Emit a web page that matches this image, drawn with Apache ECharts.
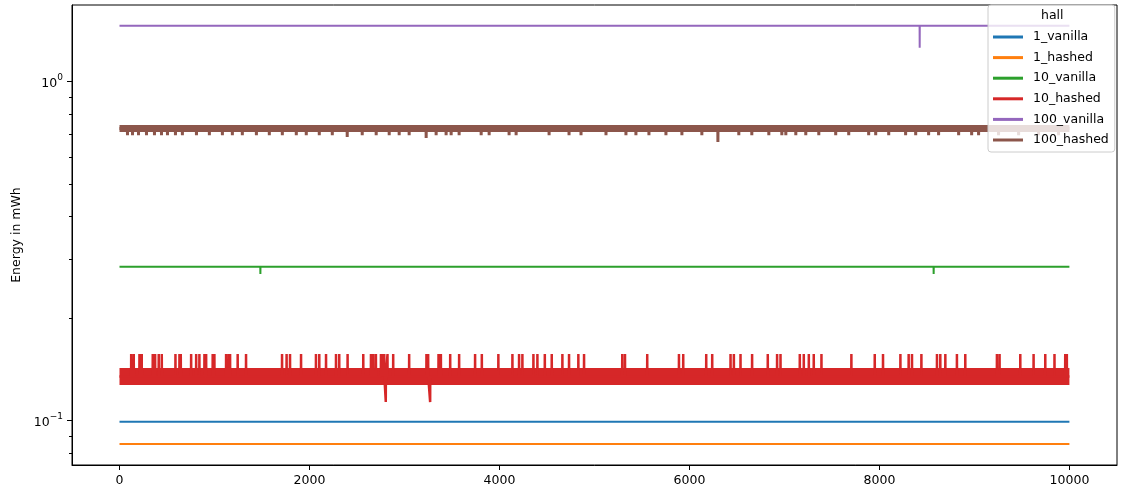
<!DOCTYPE html>
<html>
<head>
<meta charset="utf-8">
<script src="https://cdn.jsdelivr.net/npm/echarts@6/dist/echarts.min.js"></script>
<style>
  html, body { margin: 0; padding: 0; background: #fff; }
  #chartmain { width: 1121px; height: 495px; }
</style>
</head>
<body>
<div id="chartmain"></div>
<script>
// legend names and colours (matplotlib tab10)
var names = ['1_vanilla', '1_hashed', '10_vanilla', '10_hashed', '100_vanilla', '100_hashed'];
var colors = ['#1f77b4', '#ff7f0e', '#2ca02c', '#d62728', '#9467bd', '#8c564b'];
// typical level of each run (mWh)
var levels = [0.0993, 0.0854, 0.2847, 0.1350, 1.463, 0.7277];
var lastX = 9999;

// single dips [x, value]
var dips10Vanilla = [[1483, 0.2708], [8570, 0.2708]];
var dips100Vanilla = [[8423, 1.26]];
var dips10Hashed = [[2803, 0.1135], [3270, 0.1135]];

// 10_hashed : upward spikes
var spikeTop10Hashed = 0.1573;
var spikeX10Hashed = [123, 150, 210, 234, 350, 375, 413, 445, 589, 631, 645, 754, 807, 841, 894, 912, 981, 999,
  1122, 1149, 1164, 1244, 1332, 1711, 1759, 1795, 1911, 2068, 2103, 2174, 2279, 2313, 2401,
  2566, 2647, 2671, 2699, 2752, 2769, 2787, 2821, 2881, 3049, 3231, 3249, 3358, 3383, 3481, 3575,
  3743, 3814, 3988, 4136, 4206, 4241, 4357, 4399, 4477, 4550, 4662, 4732, 4830, 4890, 5292, 5321,
  5555, 5889, 5934, 6176, 6239, 6432, 6467, 6537, 6659, 6824, 6922, 6958, 7161, 7203, 7256, 7308,
  7389, 7704, 7950, 8037, 8220, 8307, 8342, 8441, 8605, 8640, 8693, 8815, 8903, 9236, 9264, 9482,
  9622, 9745, 9842, 9955, 9972];

// 100_hashed : small downward dips
var dipLow100Hashed = 0.695;
var dipX100Hashed = [84, 137, 200, 284, 368, 442, 505, 589, 662, 810, 946, 1083, 1188, 1293, 1441, 1577,
  1714, 1861, 1966, 2103, 2240, 2555, 2702, 2839, 2944, 3049, 3333, 3438, 3491, 3575, 3807, 3891,
  4101, 4175, 4522, 4732, 4858, 5121, 5331, 5436, 5573, 5752, 5920, 6130, 6519, 6656, 6835, 6972,
  7014, 7119, 7224, 7361, 7539, 7676, 7886, 7960, 8097, 8275, 8381, 8517, 8622, 8833, 8970, 9043,
  9253, 9464, 9674, 9884];
var deepDips100Hashed = [[2397, 0.687], [3228, 0.682], [6299, 0.664]];

// axis ticks
var xTicks = [0, 2000, 4000, 6000, 8000, 10000];
var yMajor = [0.1, 1];
var yMinor = [0.08, 0.09, 0.2, 0.3, 0.4, 0.5, 0.6, 0.7, 0.8, 0.9];

function stepped(base, events) {
	var ev = events.slice().sort(function(a, b) { return a[0] - b[0]; });
	var out = [[0, base]];
	for (var i = 0; i < ev.length; i++) {
		out.push([ev[i][0] - 1, base]);
		out.push([ev[i][0], ev[i][1]]);
		out.push([ev[i][0] + 1, base]);
	}
	out.push([lastX, base]);
	return out;
}

function lineSeries(idx, data, width) {
	return {
		name : names[idx],
		type : 'line',
		data : data,
		showSymbol : false,
		symbol : 'none',
		silent : true,
		animation : false,
		lineStyle : { color : colors[idx], width : width },
		itemStyle : { color : colors[idx] }
	};
}

var spikes = [];
for (var i = 0; i < spikeX10Hashed.length; i++) spikes.push([spikeX10Hashed[i], spikeTop10Hashed]);
var dips = [];
for (var i = 0; i < dipX100Hashed.length; i++) dips.push([dipX100Hashed[i], dipLow100Hashed]);

var series = [
	lineSeries(0, stepped(levels[0], []), 2),
	lineSeries(1, stepped(levels[1], []), 2),
	lineSeries(2, stepped(levels[2], dips10Vanilla), 2),
	lineSeries(3, stepped(levels[3], []), 17),
	lineSeries(3, stepped(levels[3], spikes.concat(dips10Hashed)), 2.5),
	lineSeries(4, stepped(levels[4], dips100Vanilla), 2),
	lineSeries(5, stepped(levels[5], []), 7),
	lineSeries(5, stepped(levels[5], dips.concat(deepDips100Hashed)), 3)
];

var font = 'DejaVu Sans';
var option = {
	animation : false,
	title : {
		text : 'hall',
		left : 1041,
		top : 9,
		padding : 0,
		textStyle : { fontFamily : font, fontSize : 12.5, fontWeight : 'normal', color : '#000' }
	},
	legend : {
		data : names,
		orient : 'vertical',
		left : 988,
		top : 5,
		padding : [25, 6, 5, 5],
		itemWidth : 30,
		itemHeight : 3,
		itemGap : 6.6,
		icon : 'rect',
		backgroundColor : 'rgba(255,255,255,0.8)',
		borderColor : '#cccccc',
		borderWidth : 1,
		borderRadius : 3,
		selectedMode : false,
		textStyle : { fontFamily : font, fontSize : 12.5, color : '#000', lineHeight : 14, padding : [0, 0, 0, 5] }
	},
	grid : {
		left : 72,
		top : 5,
		width : 1045,
		height : 460,
		show : true,
		borderColor : '#000',
		borderWidth : 1
	},
	xAxis : {
		type : 'value',
		min : -500,
		max : 10500,
		splitLine : { show : false },
		axisLine : { show : true, onZero : false, lineStyle : { color : '#000' } },
		axisTick : { show : true, length : 5, customValues : xTicks, lineStyle : { color : '#000' } },
		axisLabel : {
			customValues : xTicks,
			margin : 9,
			color : '#000',
			fontFamily : font,
			fontSize : 12.5,
			formatter : function(v) { return String(v); }
		}
	},
	yAxis : [{
		type : 'log',
		logBase : 10,
		min : 0.0740,
		max : 1.684,
		name : 'Energy in mWh',
		nameLocation : 'middle',
		nameGap : 47,
		nameTextStyle : { fontFamily : font, fontSize : 12.5, color : '#000' },
		splitLine : { show : false },
		axisLine : { show : true, onZero : false, lineStyle : { color : '#000' } },
		axisTick : { show : true, length : 5, customValues : yMajor, lineStyle : { color : '#000' } },
		axisLabel : {
			customValues : yMajor,
			margin : 9,
			formatter : function(v) {
				return v >= 1 ? '{b|10}{s|0}' : '{b|10}{s|\u22121}';
			},
			rich : {
				b : { fontFamily : font, fontSize : 12.5, color : '#000', lineHeight : 18, verticalAlign : 'bottom' },
				s : { fontFamily : font, fontSize : 9, color : '#000', lineHeight : 18, verticalAlign : 'top' }
			}
		}
	}, {
		type : 'log',
		logBase : 10,
		min : 0.0740,
		max : 1.684,
		position : 'left',
		splitLine : { show : false },
		axisLine : { show : false, onZero : false },
		axisLabel : { show : false },
		axisTick : { show : true, length : 3, customValues : yMinor, lineStyle : { color : '#000' } }
	}],
	series : series
};

var myChart = echarts.init(document.getElementById('chartmain'));
myChart.setOption(option);
</script>
</body>
</html>
